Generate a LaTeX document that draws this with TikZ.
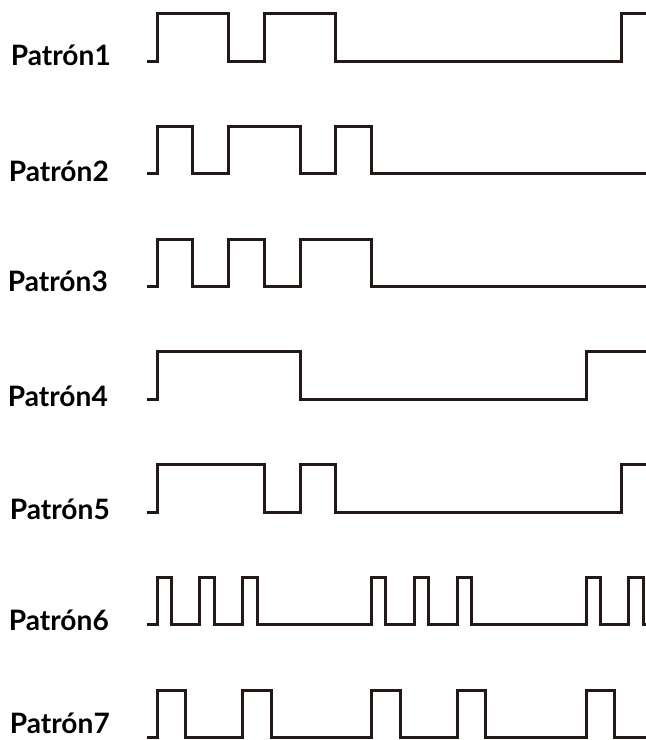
\documentclass[tikz,border=0pt]{standalone}
\usepackage{fontspec}
\setmainfont{Lato}

\definecolor{inkblack}{RGB}{35,24,21}

\begin{document}
\begin{tikzpicture}[x=0.3mm,y=-0.3mm,
    wave/.style={inkblack,line width=0.9mm,line join=miter},
    patlabel/.style={anchor=base east,inner sep=0pt,font=\fontsize{24}{26}\selectfont\bfseries}]
  \useasboundingbox (0,0) rectangle (646,740);
  % pattern 1
  \node[patlabel] (lab1) at (111,65.7) {Patrón1};
  \draw[wave] (147,61) -| (157,13.5) -| (228.5,61) -| (264.25,13.5) -| (335.75,61)
    -| (621.75,13.5) -- (646,13.5);
  % pattern 2
  \node[patlabel] (lab2) at (109,181.7) {Patrón2};
  \draw[wave] (147,173.75) -| (157,126.25) -| (192.75,173.75) -| (228.5,126.25) -| (300,173.75)
    -| (335.75,126.25) -| (371.5,173.75) -- (646,173.75);
  % pattern 3
  \node[patlabel] (lab3) at (108,291.7) {Patrón3};
  \draw[wave] (147,286.5) -| (157,239) -| (192.75,286.5) -| (228.5,239) -| (264.25,286.5)
    -| (300,239) -| (371.5,286.5) -- (646,286.5);
  % pattern 4
  \node[patlabel] (lab4) at (108,406.7) {Patrón4};
  \draw[wave] (147,399.25) -| (157,351.75) -| (300,399.25) -| (586,351.75) -- (646,351.75);
  % pattern 5
  \node[patlabel] (lab5) at (110,519.3) {Patrón5};
  \draw[wave] (147,512) -| (157,464.5) -| (264.25,512) -| (300,464.5) -| (335.75,512)
    -| (621.75,464.5) -- (646,464.5);
  % pattern 6
  \node[patlabel] (lab6) at (109,630.5) {Patrón6};
  \draw[wave] (147,624.75) -| (157,577.25) -| (171.3,624.75) -| (199.9,577.25) -| (214.2,624.75)
    -| (242.8,577.25) -| (257.1,624.75) -| (371.5,577.25) -| (385.8,624.75)
    -| (414.4,577.25) -| (428.7,624.75) -| (457.3,577.25) -| (471.6,624.75)
    -| (586,577.25) -| (600.3,624.75) -| (628.9,577.25) -| (643.2,624.75) -- (646,624.75);
  % pattern 7
  \node[patlabel] (lab7) at (110,733) {Patrón7};
  \draw[wave] (147,737.5) -| (157,690) -| (185.6,737.5) -| (242.8,690) -| (271.4,737.5)
    -| (371.5,690) -| (400.1,737.5) -| (457.3,690) -| (485.9,737.5)
    -| (586,690) -| (614.6,737.5) -- (646,737.5);
\end{tikzpicture}
\end{document}
